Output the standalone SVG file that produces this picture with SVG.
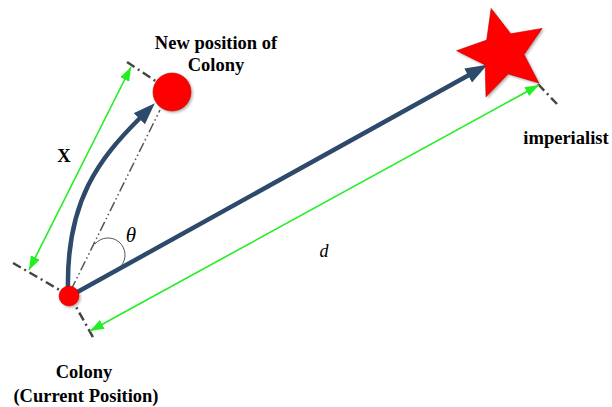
<svg xmlns="http://www.w3.org/2000/svg" width="612" height="407" viewBox="0 0 612 407">
<style>
.lbl{font-family:"Liberation Serif","Times New Roman",serif;font-weight:bold;font-size:18.5px;fill:#000;text-anchor:middle}
.it{font-family:"Liberation Serif","Times New Roman",serif;font-style:italic;fill:#000;text-anchor:middle}
.blue{fill:none;stroke:#2D4A6B;stroke-width:4.5}
.green{fill:none;stroke:#22EE22;stroke-width:1.6}
.dd{fill:none;stroke:#444;stroke-width:2.5;stroke-dasharray:9 4 2 4}
.dd2{fill:none;stroke:#555;stroke-width:1.5;stroke-dasharray:10 3 1.5 3 1.5 3}
.red{fill:#FF0000;stroke:#C00000;stroke-width:0.6}
</style>
<defs>
<filter id="sh" x="-30%" y="-30%" width="160%" height="160%">
<feDropShadow dx="1.5" dy="1.5" stdDeviation="1.2" flood-color="#000" flood-opacity="0.3"/>
</filter>
<marker id="bh" markerUnits="userSpaceOnUse" markerWidth="24" markerHeight="18" refX="1" refY="8" orient="auto">
<path d="M0,0 L22,8 L0,16 z" fill="#2D4A6B"/>
</marker>
<marker id="gh" markerUnits="userSpaceOnUse" markerWidth="16" markerHeight="12" refX="14" refY="5" orient="auto-start-reverse">
<path d="M0,0 L14,5 L0,10 z" fill="#22EE22"/>
</marker>
</defs>
<g id="connectors">
<path class="dd" d="M13,263 L70,296"/>
<path class="dd" d="M70,296 L94,339"/>
<path class="dd" d="M127,62 L160,84"/>
<path class="dd" d="M538,84 L557,104"/>
<path class="dd2" d="M71,290 L160,110"/>
<path class="green" d="M29,270 L131,67" marker-start="url(#gh)" marker-end="url(#gh)"/>
<path class="green" d="M90,331 L539,85" marker-start="url(#gh)" marker-end="url(#gh)"/>
<path class="blue" d="M68,290 C66,200 100,158 140,118" marker-end="url(#bh)"/>
<path class="blue" d="M72,295 L469,75" marker-end="url(#bh)"/>
<path d="M95,244 A17,17 0 0 1 121,266" fill="none" stroke="#555" stroke-width="1"/>
</g>
<g id="imperialist">
<polygon class="red" filter="url(#sh)" points="491.1,8.5 510.7,33.8 542.1,28.4 524.1,54.6 538.8,82.9 508.2,73.9 486.0,96.8 485.2,64.9 456.6,50.7 486.7,40.1"/>
<text class="lbl" x="566" y="144">imperialist</text>
</g>
<g id="new-position">
<circle class="red" filter="url(#sh)" cx="172" cy="92" r="19"/>
<text class="lbl" x="216" y="49">New position of</text>
<text class="lbl" x="216" y="71">Colony</text>
</g>
<g id="colony">
<circle class="red" filter="url(#sh)" cx="69" cy="296" r="10"/>
<text class="lbl" x="84" y="378">Colony</text>
<text class="lbl" x="86" y="402">(Current Position)</text>
</g>
<g id="labels">
<text class="lbl" x="64" y="162" font-size="17">X</text>
<text class="it" x="131" y="242" font-size="21">θ</text>
<text class="it" x="324" y="257" font-size="18">d</text>
</g>
</svg>
